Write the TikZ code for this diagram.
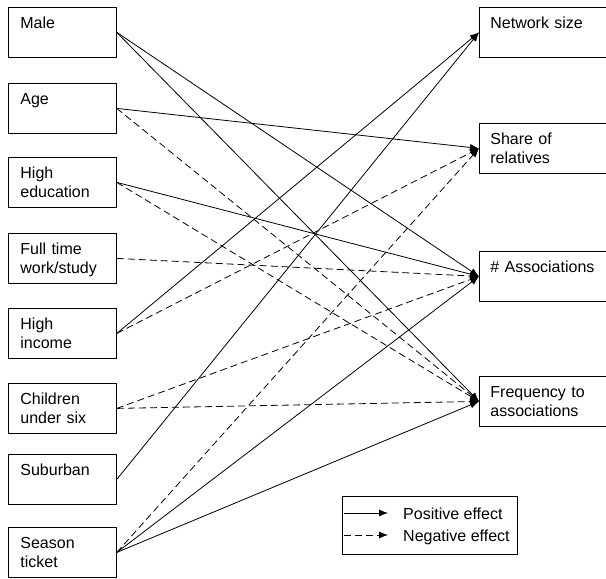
\documentclass[tikz,border=0pt]{standalone}
\usepackage{fontspec}
\setmainfont{Liberation Sans}
\usetikzlibrary{arrows.meta}

\tikzset{
  varbox/.style={draw, line width=0.8pt, anchor=north west, minimum height=50pt,
    inner ysep=9pt, text height=12pt, text depth=20pt, align=left,
    font=\fontsize{16}{19}\selectfont},
  leftbox/.style={varbox, inner xsep=12pt, text width=84pt},
  rightbox/.style={varbox, inner xsep=11pt, text width=118pt},
  posarrow/.style={-{Latex[length=9pt,width=7pt]}, line width=0.8pt},
  negarrow/.style={posarrow, dash pattern=on 7pt off 4pt},
  legtext/.style={anchor=base west, inner sep=0pt, font=\fontsize{16}{19}\selectfont}
}

\begin{document}
\begin{tikzpicture}[x=1pt, y=-1pt]
    \useasboundingbox (0,0) rectangle (606,579);

    % explanatory variables
    \node[leftbox] (male)   at (8,7)   {Male};
    \node[leftbox] (age)    at (8,83)  {Age};
    \node[leftbox] (edu)    at (8,157) {High\\education};
    \node[leftbox] (work)   at (8,233) {Full time\\work/study};
    \node[leftbox] (income) at (8,308) {High\\income};
    \node[leftbox] (kids)   at (8,383) {Children\\under six};
    \node[leftbox] (suburb) at (8,454) {Suburban};
    \node[leftbox] (season) at (8,527) {Season\\ticket};

    % outcomes
    \node[rightbox] (netsize) at (479,7)   {Network size};
    \node[rightbox] (share)   at (479,123) {Share of\\relatives};
    \node[rightbox] (assoc)   at (479,251) {\# Associations};
    \node[rightbox] (freq)    at (479,376) {Frequency to\\associations};

    \draw[posarrow] (male.east) -- (assoc.west);
    \draw[posarrow] (male.east) -- (freq.west);
    \draw[posarrow] (age.east) -- (share.west);
    \draw[negarrow] (age.east) -- (freq.west);
    \draw[posarrow] (edu.east) -- (assoc.west);
    \draw[negarrow] (edu.east) -- (freq.west);
    \draw[negarrow] (work.east) -- (assoc.west);
    \draw[posarrow] (income.east) -- (netsize.west);
    \draw[negarrow] (income.east) -- (share.west);
    \draw[negarrow] (kids.east) -- (assoc.west);
    \draw[negarrow] (kids.east) -- (freq.west);
    \draw[posarrow] (suburb.east) -- (netsize.west);
    \draw[negarrow] (season.east) -- (share.west);
    \draw[posarrow] (season.east) -- (assoc.west);
    \draw[posarrow] (season.east) -- (freq.west);

    % legend
    \node[draw, line width=0.8pt, anchor=north west, minimum width=175pt, minimum height=58pt] (legend) at (342,496) {};
    \coordinate (posA) at (344,513);
    \coordinate (posB) at (388,513);
    \coordinate (negA) at (344,535);
    \coordinate (negB) at (388,535);
    \draw[posarrow] (posA) -- (posB);
    \draw[negarrow] (negA) -- (negB);
    \node[legtext] (postext) at (403,519) {Positive effect};
    \node[legtext] (negtext) at (403,541) {Negative effect};
\end{tikzpicture}
\end{document}
